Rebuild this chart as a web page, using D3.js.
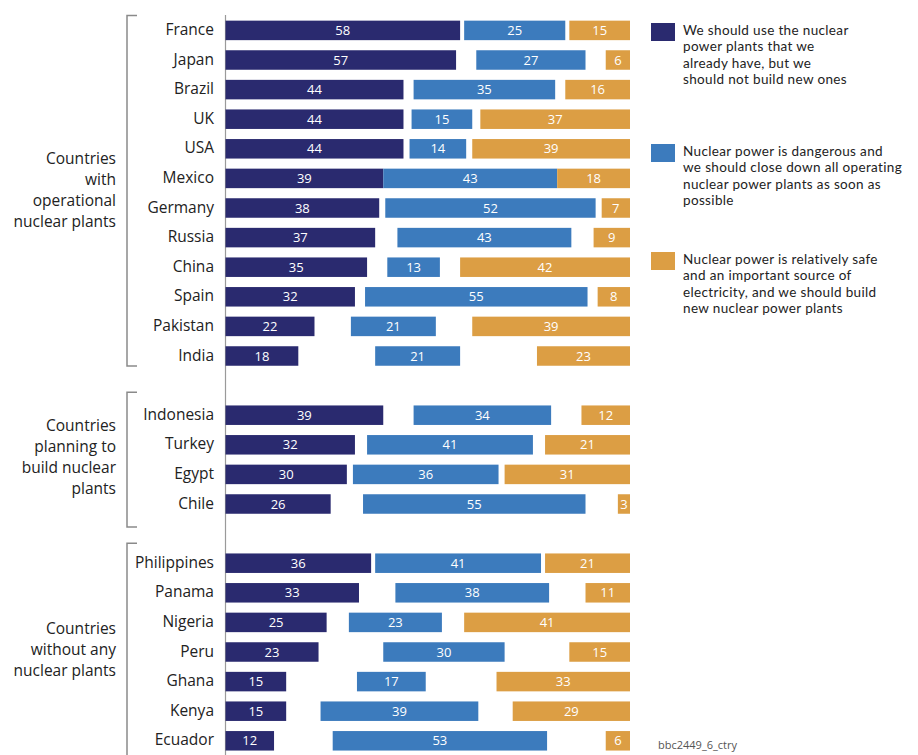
<!DOCTYPE html>
<html>
<head>
<meta charset="utf-8">
<script src="https://cdn.jsdelivr.net/npm/d3@7"></script>
<style>
  html, body { margin: 0; padding: 0; background: #fff; }
  svg { display: block; font-family: "Open Sans", "Noto Sans", sans-serif; }
  .legend-text { font-family: Lato, "Open Sans", sans-serif; }
</style>
</head>
<body>
<svg id="chart" width="918" height="755"></svg>
<script>
// Survey answers per country (percent of respondents)
const countries = ["France", "Japan", "Brazil", "UK", "USA", "Mexico", "Germany", "Russia", "China", "Spain", "Pakistan", "India",
  "Indonesia", "Turkey", "Egypt", "Chile",
  "Philippines", "Panama", "Nigeria", "Peru", "Ghana", "Kenya", "Ecuador"];
const useExisting = [58, 57, 44, 44, 44, 39, 38, 37, 35, 32, 22, 18, 39, 32, 30, 26, 36, 33, 25, 23, 15, 15, 12];
const closeDown = [25, 27, 35, 15, 14, 43, 52, 43, 13, 55, 21, 21, 34, 41, 36, 55, 41, 38, 23, 30, 17, 39, 53];
const buildNew = [15, 6, 16, 37, 39, 18, 7, 9, 42, 8, 39, 23, 12, 21, 31, 3, 21, 11, 41, 15, 33, 29, 6];

// Country groups
const groupLabels = [
  ["Countries", "with", "operational", "nuclear plants"],
  ["Countries", "planning to", "build nuclear", "plants"],
  ["Countries", "without any", "nuclear plants"]
];
const groupSizes = [12, 4, 7];

const legendLabels = [
  ["We should use the nuclear", "power plants that we", "already have, but we", "should not build new ones"],
  ["Nuclear power is dangerous and", "we should close down all operating", "nuclear power plants as soon as", "possible"],
  ["Nuclear power is relatively safe", "and an important source of", "electricity, and we should build", "new nuclear power plants"]
];
const sourceNote = "bbc2449_6_ctry";

const colors = ["#2a2a6f", "#3c7bbd", "#dc9e44"];

const svg = d3.select("#chart");

// Row slots: countries plus one empty slot between groups
const groups = [];
const slots = [];
let start = 0;
groupSizes.forEach((n, g) => {
  const members = countries.slice(start, start + n);
  groups.push({ label: groupLabels[g], members });
  members.forEach(c => slots.push(c));
  if (g < groupSizes.length - 1) slots.push("__gap" + g);
  start += n;
});

const y = d3.scalePoint().domain(slots).range([30.4, 740.8]);
const x = d3.scaleLinear().domain([0, 100]).range([225.5, 630]);
const barH = 19.5;

const rows = countries.map((c, i) => {
  const a = useExisting[i], b = closeDown[i], o = buildNew[i];
  const mid = (a + (100 - o)) / 2;
  return {
    country: c,
    segs: [
      { v: a, x0: 0, x1: a, k: 0 },
      { v: b, x0: mid - b / 2, x1: mid + b / 2, k: 1 },
      { v: o, x0: 100 - o, x1: 100, k: 2 }
    ]
  };
});

// Vertical baseline
svg.append("line")
  .attr("x1", x(0)).attr("x2", x(0))
  .attr("y1", 15).attr("y2", 755)
  .attr("stroke", "#9a9a9a").attr("stroke-width", 1.2);

// Bars
const rowG = svg.selectAll("g.row").data(rows).join("g")
  .attr("class", "row")
  .attr("transform", d => `translate(0,${y(d.country)})`);

rowG.selectAll("rect").data(d => d.segs).join("rect")
  .attr("x", s => x(s.x0))
  .attr("width", s => x(s.x1) - x(s.x0))
  .attr("y", -barH / 2)
  .attr("height", barH)
  .attr("fill", s => colors[s.k]);

rowG.selectAll("text.val").data(d => d.segs).join("text")
  .attr("class", "val")
  .attr("x", s => (x(s.x0) + x(s.x1)) / 2)
  .attr("y", 0)
  .attr("dy", "0.36em")
  .attr("text-anchor", "middle")
  .attr("fill", "#fff")
  .attr("font-size", 13)
  .text(s => s.v);

// Country labels
svg.selectAll("text.country").data(countries).join("text")
  .attr("class", "country")
  .attr("x", 214)
  .attr("y", d => y(d) - 1)
  .attr("dy", "0.36em")
  .attr("text-anchor", "end")
  .attr("font-size", 15.5)
  .attr("fill", "#222")
  .text(d => d);

// Group brackets and labels
const bx = 127, tick = 10;
const bracketPad = [[15, 10], [23, 23], [20, 20]];
groups.forEach((g, gi) => {
  const top = y(g.members[0]) - bracketPad[gi][0];
  const bot = y(g.members[g.members.length - 1]) + bracketPad[gi][1];
  svg.append("path")
    .attr("d", `M${bx + tick},${top}H${bx}V${bot}H${bx + tick}`)
    .attr("fill", "none")
    .attr("stroke", "#8a8a8a")
    .attr("stroke-width", 1.5);
  const cy = (y(g.members[0]) + y(g.members[g.members.length - 1])) / 2;
  const lh = 21;
  const t = svg.append("text")
    .attr("text-anchor", "end")
    .attr("font-size", 15.5)
    .attr("fill", "#222");
  g.label.forEach((line, i) => {
    t.append("tspan")
      .attr("x", 116)
      .attr("y", cy - (g.label.length - 1) * lh / 2 + i * lh - 3)
      .attr("dy", "0.36em")
      .text(line);
  });
});

// Legend
const legendTops = [23, 144, 252];
legendLabels.forEach((lines, k) => {
  const top = legendTops[k];
  svg.append("rect")
    .attr("x", 651).attr("y", top)
    .attr("width", 24).attr("height", 18)
    .attr("fill", colors[k]);
  lines.forEach((line, i) => {
    svg.append("text")
      .attr("class", "legend-text")
      .attr("x", 683)
      .attr("y", top + 7 + i * 16.4)
      .attr("dy", "0.36em")
      .attr("font-size", 13.5)
      .attr("letter-spacing", 0.35)
      .attr("fill", "#222")
      .text(line);
  });
});

// Source code note
svg.append("text")
  .attr("x", 658).attr("y", 745)
  .attr("dy", "0.36em")
  .attr("font-size", 11)
  .attr("fill", "#555")
  .text(sourceNote);
</script>
</body>
</html>
